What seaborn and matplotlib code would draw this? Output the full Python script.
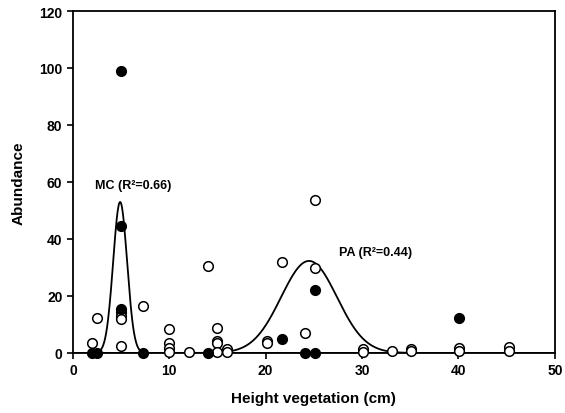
import numpy as np
import pandas as pd
import matplotlib
matplotlib.use('Agg')
import matplotlib.pyplot as plt
import seaborn as sns

sns.set_style('ticks')
plt.rcParams['font.family'] = ['Liberation Sans', 'DejaVu Sans']
plt.rcParams['font.weight'] = 'bold'
plt.rcParams['text.color'] = 'black'
plt.rcParams['axes.labelcolor'] = 'black'
plt.rcParams['xtick.color'] = 'black'
plt.rcParams['ytick.color'] = 'black'

# filled circles
filled_x = [5, 5, 5, 2.0, 2.5, 7.3, 14.0, 21.7, 24.1, 25.1, 25.1, 40.1]
filled_y = [99, 44.5, 15.6, 0, 0, 0, 0, 4.8, 0, 0, 22, 12.2]

# open circles
open_x = [2.0, 2.5, 5, 5, 5, 5, 7.3, 10, 10, 10, 10, 12, 14.0,
          15, 15, 15, 15, 16, 16, 20.1, 20.1, 21.7, 24.1, 25.1, 25.1,
          30.1, 30.1, 33.1, 35.1, 35.1, 40.1, 40.1, 45.2, 45.2]
open_y = [3.4, 12.3, 14.3, 13.0, 12.0, 2.3, 16.4, 8.4, 3.4, 1.6, 0.2, 0.2, 30.6,
          8.7, 4.3, 3.5, 0.2, 1.5, 0.2, 4.3, 3.5, 32.0, 6.9, 53.7, 29.9,
          1.4, 0.3, 0.7, 1.5, 0.6, 1.7, 0.6, 2.2, 0.6]

# gaussian fits (amplitude, centre, sigma)
mc_fit = (53.0, 4.9, 0.72)
pa_fit = (32.3, 24.5, 2.9)

curve_x = np.linspace(0, 50, 1001)
curves = pd.DataFrame({
    'x': np.concatenate([curve_x, curve_x]),
    'y': np.concatenate([
        mc_fit[0] * np.exp(-0.5 * ((curve_x - mc_fit[1]) / mc_fit[2]) ** 2),
        pa_fit[0] * np.exp(-0.5 * ((curve_x - pa_fit[1]) / pa_fit[2]) ** 2)]),
    'fit': ['MC'] * len(curve_x) + ['PA'] * len(curve_x),
})

fig = plt.figure(figsize=(5.65, 4.14), dpi=100)
ax = fig.add_axes([0.129, 0.145, 0.853, 0.826])

sns.lineplot(data=curves, x='x', y='y', units='fit', estimator=None,
             color='black', linewidth=1.3, ax=ax, legend=False)

sns.scatterplot(x=open_x, y=open_y, ax=ax, s=48, facecolor='white',
                edgecolor='black', linewidth=1.1, clip_on=False, zorder=3)
sns.scatterplot(x=filled_x, y=filled_y, ax=ax, s=48, color='black',
                edgecolor='black', linewidth=1.1, clip_on=False, zorder=4)

ax.text(2.3, 59, 'MC (R²=0.66)', fontsize=9, fontweight='bold', va='center')
ax.text(27.6, 35.5, 'PA (R²=0.44)', fontsize=9, fontweight='bold', va='center')

ax.set_xlim(0, 50)
ax.set_ylim(0, 120)
ax.set_xticks([0, 10, 20, 30, 40, 50])
ax.set_yticks([0, 20, 40, 60, 80, 100, 120])
ax.tick_params(labelsize=10, length=4, width=1.2)
for lab in ax.get_xticklabels() + ax.get_yticklabels():
    lab.set_fontweight('bold')
for sp in ax.spines.values():
    sp.set_linewidth(1.3)
    sp.set_color('black')

ax.set_xlabel('Height vegetation (cm)', fontsize=11, fontweight='bold', labelpad=10)
ax.set_ylabel('Abundance', fontsize=11, fontweight='bold', labelpad=10)

fig.savefig('out.png', dpi=100)
